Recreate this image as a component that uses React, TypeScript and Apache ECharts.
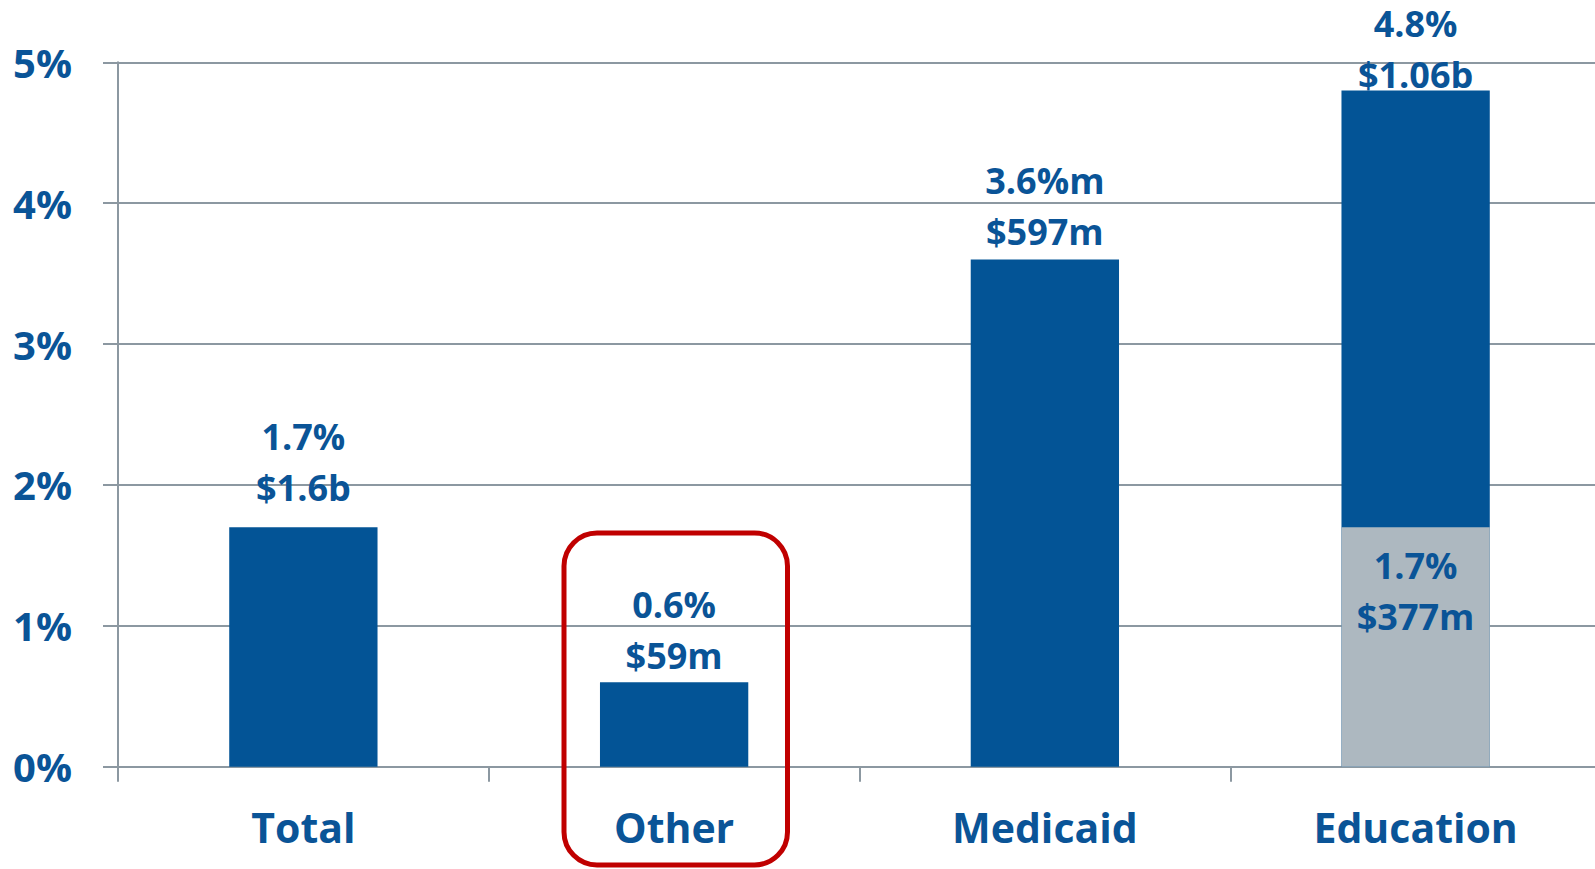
import React, { useEffect, useRef } from "react";
import * as echarts from "echarts";

// ---- data ----
const categories = ["Total", "Other", "Medicaid", "Education"];
const shareValues = [1.7, 0.6, 3.6, 4.8];
const shareLabels = ["1.7%", "0.6%", "3.6%m", "4.8%"];
const amountLabels = ["$1.6b", "$59m", "$597m", "$1.06b"];
const baseValues: (number | null)[] = [null, null, null, 1.7];
const baseShareLabels = ["", "", "", "1.7%"];
const baseAmountLabels = ["", "", "", "$377m"];
const yMin = 0;
const yMax = 5;
const yInterval = 1;

// ---- styling ----
const BLUE = "#035496";
const TEXT_BLUE = "#0A5497";
const GRAY_BAR = "#ADB8C0";
const GRID = "#8C98A1";
const RED = "#C00000";
const FONT = "'Open Sans', 'Noto Sans', sans-serif";
const labelLift = [14, 1, 3, -10];

export default function App() {
  const ref = useRef<HTMLDivElement>(null);

  useEffect(() => {
    document.body.style.margin = "0";
    document.body.style.overflow = "hidden";
    document.documentElement.style.overflow = "hidden";
    if (!ref.current) return;
    const chart = echarts.init(ref.current, null, { renderer: "svg" });

    const mainData = shareValues.map((v, i) => ({
      value: v,
      label: {
        show: true,
        position: "top",
        distance: 0,
        offset: [0, -labelLift[i]],
        formatter: () => `${shareLabels[i]}\n${amountLabels[i]}`,
      },
    }));

    const baseData = baseValues.map((v, i) =>
      v == null
        ? null
        : {
            value: v,
            label: {
              show: true,
              position: "insideTop",
              distance: 13,
              formatter: () => `${baseShareLabels[i]}\n${baseAmountLabels[i]}`,
            },
          }
    );

    const labelText = {
      color: TEXT_BLUE,
      fontFamily: FONT,
      fontWeight: "bold",
      fontSize: 36,
      lineHeight: 51,
    };

    chart.setOption({
      animation: false,
      backgroundColor: "#ffffff",
      grid: { left: 118, top: 62.3, width: 1483, height: 704.4, containLabel: false },
      xAxis: {
        type: "category",
        data: categories,
        axisLine: { show: true, lineStyle: { color: GRID, width: 2 } },
        axisTick: { show: true, length: 15, lineStyle: { color: GRID, width: 2 } },
        axisLabel: {
          color: TEXT_BLUE,
          fontFamily: FONT,
          fontWeight: "bold",
          fontSize: 41,
          lineHeight: 42,
          margin: 39,
        },
        splitLine: { show: false },
      },
      yAxis: {
        type: "value",
        min: yMin,
        max: yMax,
        interval: yInterval,
        axisLine: { show: true, lineStyle: { color: GRID, width: 2 } },
        axisTick: { show: true, length: 15, lineStyle: { color: GRID, width: 2 } },
        axisLabel: {
          formatter: "{value}%",
          color: TEXT_BLUE,
          fontFamily: FONT,
          fontWeight: "bold",
          fontSize: 40,
          margin: 46,
          align: "right",
        },
        splitLine: { show: true, lineStyle: { color: GRID, width: 2 } },
      },
      series: [
        {
          type: "bar",
          name: "Share",
          data: mainData,
          barWidth: "40%",
          barGap: "-100%",
          itemStyle: { color: BLUE },
          label: labelText,
        },
        {
          type: "bar",
          name: "Base",
          data: baseData,
          barWidth: "40%",
          barGap: "-100%",
          itemStyle: { color: GRAY_BAR },
          label: labelText,
        },
      ],
      graphic: [
        {
          type: "rect",
          shape: { x: 564, y: 533, width: 223.5, height: 332, r: 33 },
          style: { fill: "none", stroke: RED, lineWidth: 5 },
          z: 100,
        },
      ],
    });

    return () => {
      chart.dispose();
    };
  }, []);

  return <div ref={ref} style={{ width: 1620, height: 869 }} />;
}
